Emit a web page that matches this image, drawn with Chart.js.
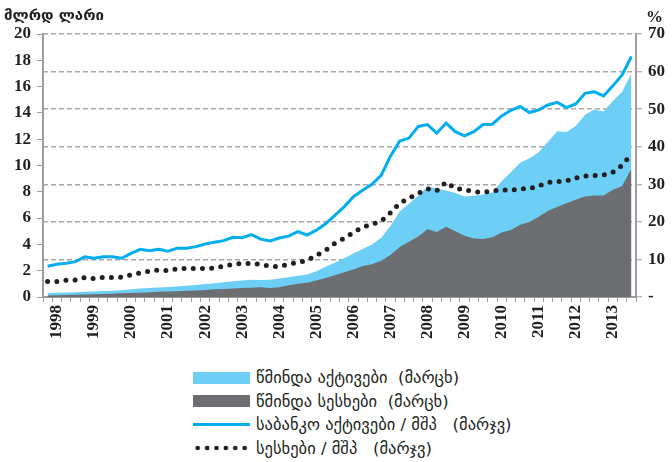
<!doctype html>
<html lang="ka">
<head>
<meta charset="utf-8">
<title>საბანკო სექტორი</title>
<script src="https://cdn.jsdelivr.net/npm/chart.js@4.4.0/dist/chart.umd.min.js"></script>
<style>
  body { margin:0; background:#fff; width:672px; height:462px; overflow:hidden; position:relative; font-family:'DejaVu Sans', sans-serif; }
  #grafiki { position:absolute; left:0; top:0; }
  #legenda { position:absolute; left:193px; top:366px; }
  .rigi { display:flex; align-items:center; height:23.5px; font-size:16.5px; color:#231f20; white-space:pre; }
  .nishani { width:57px; margin-right:6px; }
</style>
</head>
<body>
<canvas id="grafiki" width="672" height="355"></canvas>
<div id="legenda"></div>
<script>
// wlebi, kvartaluri monacemebi
const tslebi = ['1998','1999','2000','2001','2002','2003','2004','2005','2006','2007','2008','2009','2010','2011','2012','2013'];
const kvartlebi = ['I','II','III','IV'];

// mlrd lari (marcxena gherdzi)
const wmindaAqtivebi = [0.30,0.32,0.34,0.36,0.40,0.42,0.45,0.48,0.52,0.58,
  0.64,0.68,0.72,0.76,0.80,0.86,0.92,0.98,1.05,1.12,
  1.20,1.26,1.32,1.30,1.32,1.40,1.50,1.62,1.72,1.95,
  2.30,2.60,2.95,3.30,3.65,4.00,4.50,5.40,6.50,7.10,
  7.70,8.40,8.25,8.10,7.90,7.65,7.70,7.80,7.95,8.80,
  9.50,10.20,10.55,11.00,11.80,12.60,12.55,13.00,13.85,14.25,
  14.10,14.90,15.60,17.00];
const wmindaSesxebi = [0.12,0.14,0.15,0.17,0.19,0.21,0.23,0.25,0.28,0.30,
  0.33,0.36,0.39,0.41,0.44,0.47,0.50,0.54,0.58,0.61,
  0.64,0.68,0.70,0.74,0.68,0.75,0.90,1.00,1.08,1.25,
  1.45,1.65,1.88,2.10,2.35,2.50,2.75,3.20,3.80,4.20,
  4.60,5.15,4.95,5.35,5.00,4.65,4.45,4.42,4.55,4.90,
  5.10,5.50,5.70,6.10,6.55,6.85,7.12,7.40,7.65,7.72,
  7.72,8.15,8.45,9.75];

// procenti (marjvena gherdzi)
const aqtivebiMshp = [8.2,8.7,9.0,9.4,10.7,10.3,10.7,10.7,10.3,11.6,
  12.7,12.3,12.7,12.2,13.0,13.0,13.4,14.1,14.6,15.0,
  15.9,15.8,16.6,15.4,14.9,15.7,16.2,17.4,16.5,17.8,
  19.5,21.7,24.0,26.7,28.4,30.0,32.4,37.5,41.5,42.3,
  45.4,45.9,43.6,46.3,44.0,42.9,44.0,45.9,46.0,48.2,
  49.7,50.7,49.1,49.8,51.1,51.8,50.4,51.4,54.2,54.6,
  53.5,56.2,59.1,64.0];
const sesxebiMshp = [4.1,4.1,4.5,4.5,5.2,4.9,5.2,5.2,5.3,5.9,
  6.4,6.9,7.2,7.0,7.5,7.6,7.6,7.6,7.7,8.2,
  8.7,8.9,8.9,8.7,8.2,8.1,8.7,9.2,9.7,11.1,
  12.4,14.3,15.6,17.2,18.6,19.3,20.2,22.4,25.0,26.3,
  27.6,28.8,28.3,30.6,28.9,28.6,28.0,27.9,28.2,28.5,
  28.4,28.8,28.8,29.6,30.5,30.7,30.9,31.7,32.2,32.3,
  32.5,33.2,35.0,38.0];

const saxelebi = ['წმინდა აქტივები  (მარცხ)', 'წმინდა სესხები  (მარცხ)', 'საბანკო აქტივები / მშპ   (მარჯვ)', 'სესხები / მშპ   (მარჯვ)'];
const marcxenaErteuli = 'მლრდ ლარი';
const marjvenaErteuli = '%';

const ghiaLurji = '#6dcff6';
const nacrisferi = '#6d6e71';
const lurji = '#00aeef';
const shavi = '#231f20';
const gherdziFeri = '#9d9d9d';

let etiketebi = [];
tslebi.forEach(w => kvartlebi.forEach(k => etiketebi.push(w + ' ' + k)));

const ricxvisShrifti = { family: '"Liberation Serif", "Times New Roman", serif', size: 17, weight: 'bold' };

const erteulebi = {
  id: 'erteulebi',
  afterDraw(chart) {
    const ctx = chart.ctx;
    ctx.save();
    ctx.fillStyle = shavi;
    ctx.font = 'bold 15px "DejaVu Sans"';
    ctx.fillText(marcxenaErteuli, 4, 20);
    ctx.font = 'bold 17px "Liberation Serif"';
    ctx.fillText(marjvenaErteuli, 646, 22);
    ctx.restore();
  }
};

let canvas = document.getElementById('grafiki').getContext('2d');

new Chart(canvas, {
  type: 'line',
  data: {
    labels: etiketebi,
    datasets: [
      { label: saxelebi[0], data: wmindaAqtivebi, yAxisID: 'y', fill: 'origin', backgroundColor: ghiaLurji, borderWidth: 0, pointRadius: 0, order: 4 },
      { label: saxelebi[1], data: wmindaSesxebi, yAxisID: 'y', fill: 'origin', backgroundColor: nacrisferi, borderWidth: 0, pointRadius: 0, order: 3 },
      { label: saxelebi[2], data: aqtivebiMshp, yAxisID: 'y1', borderColor: lurji, borderWidth: 3, pointRadius: 0, fill: false, order: 2 },
      { label: saxelebi[3], data: sesxebiMshp, yAxisID: 'y1', borderColor: shavi, borderWidth: 5, borderDash: [0, 9.2], borderCapStyle: 'round', pointRadius: 0, fill: false, order: 1 }
    ]
  },
  options: {
    responsive: false,
    animation: false,
    layout: { padding: { top: 34, left: 0, right: 0, bottom: 0 } },
    plugins: { legend: { display: false }, tooltip: { enabled: false } },
    scales: {
      x: {
        type: 'category',
        offset: true,
        grid: { offset: true, drawOnChartArea: false, tickLength: 5, color: gherdziFeri, lineWidth: 1 },
        border: { color: gherdziFeri, width: 2 },
        ticks: {
          autoSkip: false, maxRotation: 90, minRotation: 90, padding: 3,
          color: shavi, font: ricxvisShrifti,
          callback: (v, i) => (i % 4 === 1 ? tslebi[(i - 1) / 4] : '')
        },
        afterFit: s => { s.height = 58; }
      },
      y: {
        position: 'left', min: 0, max: 20,
        grid: { drawOnChartArea: false, tickLength: 6, color: gherdziFeri },
        border: { color: gherdziFeri, width: 2 },
        ticks: { stepSize: 2, padding: 6, color: shavi, font: ricxvisShrifti },
        afterFit: s => { s.width = 43; }
      },
      y1: {
        position: 'right', min: 0, max: 70,
        grid: {
          drawOnChartArea: true, tickLength: 6, lineWidth: 1.5,
          color: c => (c.tick && c.tick.value === 0 ? 'rgba(0,0,0,0)' : '#a8a8a8'),
          tickColor: gherdziFeri, tickWidth: 1
        },
        border: { color: gherdziFeri, width: 2, dash: [5, 3] },
        ticks: { stepSize: 10, padding: 6, color: shavi, font: ricxvisShrifti, callback: v => (v === 0 ? '-' : v) },
        afterFit: s => { s.width = 36; }
      }
    }
  },
  plugins: [erteulebi]
});

// legenda
const nishnebi = [
  'height:12px;background:' + ghiaLurji,
  'height:12px;background:' + nacrisferi,
  'height:3px;background:' + lurji,
  'height:6px;background:radial-gradient(circle, ' + shavi + ' 2px, rgba(0,0,0,0) 2.6px) 0 0/9.4px 6px repeat-x'
];
let legenda = document.getElementById('legenda');
saxelebi.forEach((s, i) => {
  let rigi = document.createElement('div');
  rigi.className = 'rigi';
  let nishani = document.createElement('div');
  nishani.className = 'nishani';
  nishani.style.cssText = nishnebi[i];
  let teqsti = document.createElement('span');
  teqsti.textContent = s;
  rigi.append(nishani, teqsti);
  legenda.append(rigi);
});
</script>
</body>
</html>
